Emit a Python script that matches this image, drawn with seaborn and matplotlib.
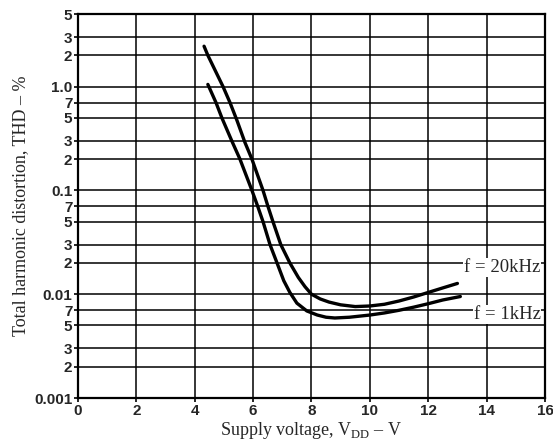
import matplotlib
matplotlib.use("Agg")
import matplotlib.pyplot as plt
import pandas as pd
import seaborn as sns

# ---- data ----
vdd_20k = [4.32, 4.45, 4.97, 5.21, 5.45, 5.72, 5.96, 6.34, 6.51, 6.68, 6.95, 7.26,
           7.55, 7.78, 8.0, 8.3, 8.6, 9.0, 9.5, 10.0, 10.5, 11.0, 11.5, 12.0, 12.5, 13.0]
thd_20k = [2.45, 2.0, 1.0, 0.7, 0.47, 0.29, 0.2, 0.1, 0.07, 0.05, 0.03, 0.02,
           0.0145, 0.0118, 0.0100, 0.0090, 0.0084, 0.0079, 0.0076, 0.0077, 0.0080,
           0.0086, 0.0094, 0.0104, 0.0115, 0.0127]
vdd_1k = [4.45, 4.73, 4.93, 5.27, 5.55, 5.96, 6.16, 6.34, 6.58, 6.82, 7.05, 7.26,
          7.5, 7.84, 8.2, 8.5, 8.8, 9.3, 10.0, 10.5, 11.0, 11.5, 12.0, 12.5, 13.1]
thd_1k = [1.05, 0.7, 0.5, 0.3, 0.2, 0.1, 0.07, 0.05, 0.03, 0.02, 0.0135, 0.0104,
          0.0082, 0.0069, 0.0063, 0.0060, 0.0059, 0.0060, 0.0063, 0.0066, 0.0070,
          0.0075, 0.0081, 0.0088, 0.0095]
series_labels = ["f = 20kHz", "f = 1kHz"]

x_ticks = [0, 2, 4, 6, 8, 10, 12, 14, 16]
y_ticks = [0.001, 0.002, 0.003, 0.005, 0.007, 0.01, 0.02, 0.03, 0.05, 0.07,
           0.1, 0.2, 0.3, 0.5, 0.7, 1.0, 2, 3, 5]
y_tick_labels = ["0.001", "2", "3", "5", "7", "0.01", "2", "3", "5", "7",
                 "0.1", "2", "3", "5", "7", "1.0", "2", "3", "5"]

df = pd.concat([
    pd.DataFrame({"vdd": vdd_20k, "thd": thd_20k, "f": series_labels[0]}),
    pd.DataFrame({"vdd": vdd_1k, "thd": thd_1k, "f": series_labels[1]}),
])

sns.set_style("white")
plt.rcParams["font.family"] = ["Liberation Sans", "DejaVu Sans"]
plt.rcParams["mathtext.fontset"] = "custom"
plt.rcParams["mathtext.rm"] = "Liberation Serif"

fig = plt.figure(figsize=(5.53, 4.48), dpi=100)
ax = fig.add_axes([0.141, 0.1116, 0.8445, 0.857])

sns.lineplot(data=df, x="vdd", y="thd", hue="f", units="f", estimator=None,
             sort=False, palette=["black", "black"], linewidth=2.4,
             legend=False, ax=ax)
for ln in ax.lines:
    ln.set_solid_joinstyle("round")

ax.set_yscale("log")
ax.set_xlim(0, 16)
ax.set_ylim(0.001, 5)
ax.set_xticks(x_ticks)
ax.set_xticklabels([str(t) for t in x_ticks], fontweight="bold", fontsize=11)
ax.set_yticks(y_ticks)
ax.set_yticklabels(y_tick_labels, fontweight="bold", fontsize=11)
ax.minorticks_off()
ax.tick_params(axis="both", length=3, width=1.2, color="black", pad=1,
               direction="out", left=True, bottom=True)
ax.grid(True, color="black", linewidth=1.1)
for s in ax.spines.values():
    s.set_color("black")
    s.set_linewidth(1.6)

serif = ["Liberation Serif", "DejaVu Serif"]
ax.set_xlabel(r"Supply voltage, V$_{\mathrm{DD}}$ – V", family=serif, fontsize=13, labelpad=2)
ax.set_ylabel("Total harmonic distortion, THD – %", family=serif, fontsize=13, labelpad=4)

ax.text(15.85, 0.0180, series_labels[0], family=serif, fontsize=13.5, ha="right", va="center",
        bbox=dict(facecolor="white", edgecolor="none", pad=0.5))
ax.text(15.85, 0.0064, series_labels[1], family=serif, fontsize=13.5, ha="right", va="center",
        bbox=dict(facecolor="white", edgecolor="none", pad=0.5))

fig.savefig("out.png", dpi=100)
